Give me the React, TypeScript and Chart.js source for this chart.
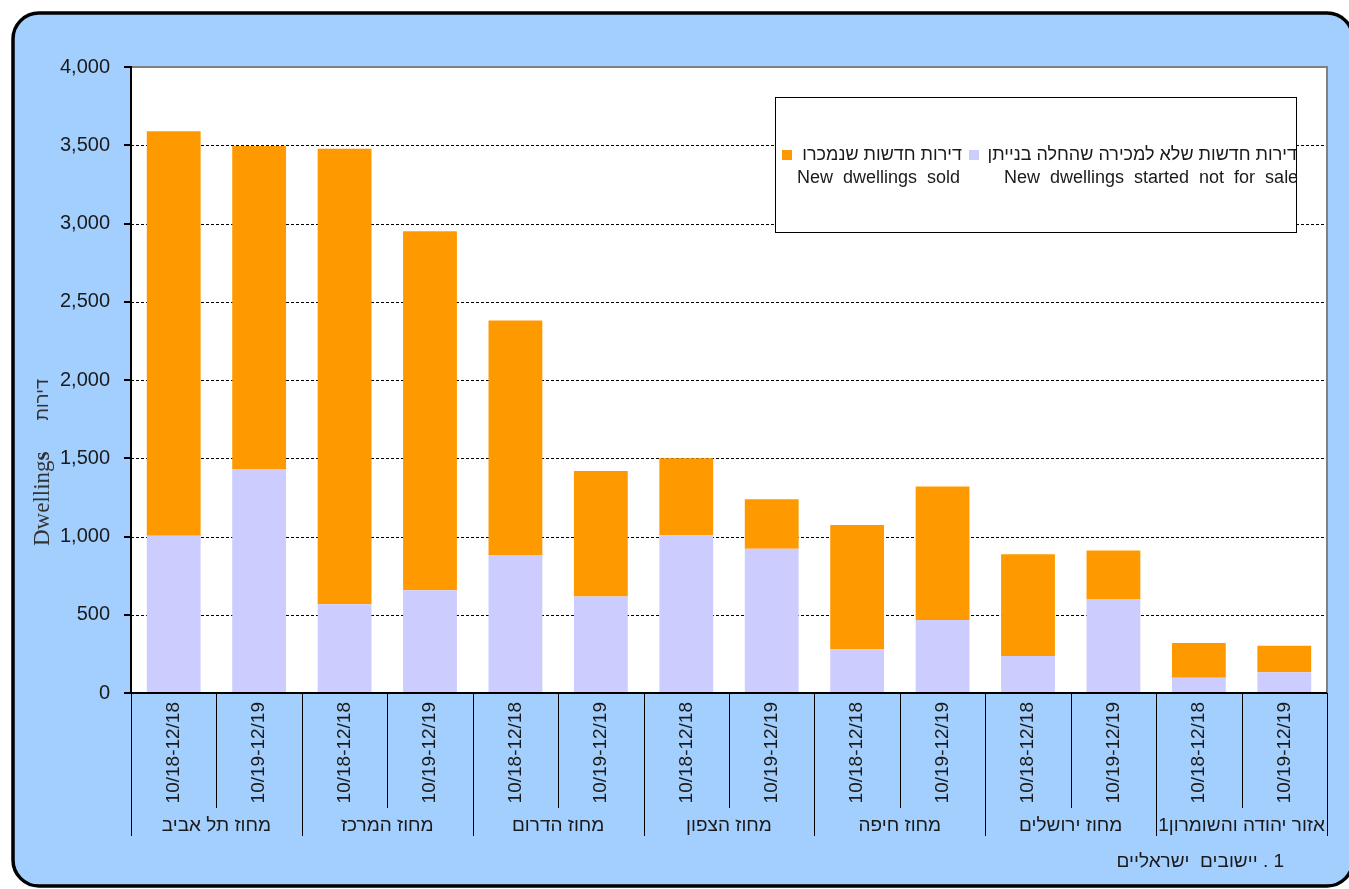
import React, { useEffect, useRef } from "react";
import { Chart, registerables } from "chart.js";

Chart.register(...registerables);

// Districts (two periods each) and the stacked dwelling counts
const districts = [
  "מחוז תל אביב",
  "מחוז המרכז",
  "מחוז הדרום",
  "מחוז הצפון",
  "מחוז חיפה",
  "מחוז ירושלים",
  "אזור יהודה והשומרון1",
];
const periods = ["10/18-12/18", "10/19-12/19"];
const notForSale = [1005, 1428, 567, 656, 878, 616, 1008, 921, 279, 467, 237, 598, 98, 132];
const sold = [2585, 2067, 2911, 2294, 1502, 803, 492, 317, 795, 852, 649, 312, 222, 170];
const yMax = 4000;
const yStep = 500;

const legendSoldHe = "דירות חדשות שנמכרו";
const legendSoldEn = "New  dwellings  sold";
const legendNfsHe = "דירות חדשות שלא למכירה שהחלה בנייתן";
const legendNfsEn = "New  dwellings  started  not  for  sale";
const axisTitleEn = "Dwelling";
const axisTitleHe = "דירות";
const footnote = "1 . יישובים  ישראליים";

const ORANGE = "#ff9900";
const LAVENDER = "#ccccff";
const PANEL = "#a3cfff";
const TEXT = "#1a1a1a";
const SANS = "'Liberation Sans', Arial, sans-serif";
const SERIF = "'Liberation Serif', 'Times New Roman', serif";

const frame = {
  id: "frame",
  beforeDraw(chart: any) {
    const { ctx, chartArea: a } = chart;
    ctx.save();
    ctx.fillStyle = "#fff";
    ctx.fillRect(0, 0, chart.width, chart.height);
    ctx.beginPath();
    ctx.roundRect(13, 13, 1340, 873, 26);
    ctx.fillStyle = PANEL;
    ctx.fill();
    ctx.lineWidth = 3.5;
    ctx.strokeStyle = "#000";
    ctx.stroke();
    ctx.fillStyle = "#fff";
    ctx.fillRect(a.left, a.top, a.right - a.left, a.bottom - a.top);
    ctx.restore();
  },
  beforeDatasetsDraw(chart: any) {
    const { ctx, chartArea: a } = chart;
    const ys = chart.scales.y;
    ctx.save();
    ctx.strokeStyle = "#000";
    ctx.lineWidth = 1;
    ctx.setLineDash([3, 2]);
    ys.ticks.forEach((t: any) => {
      if (t.value <= 0 || t.value >= yMax) return;
      const y = Math.round(ys.getPixelForValue(t.value)) + 0.5;
      ctx.beginPath();
      ctx.moveTo(a.left, y);
      ctx.lineTo(a.right, y);
      ctx.stroke();
    });
    ctx.restore();
  },
  afterDatasetsDraw(chart: any) {
    const { ctx, chartArea: a } = chart;
    const ys = chart.scales.y;
    const xs = chart.scales.x;
    ctx.save();
    // plot frame: grey top and right edges
    ctx.strokeStyle = "#808080";
    ctx.lineWidth = 2;
    ctx.beginPath();
    ctx.moveTo(a.left, a.top);
    ctx.lineTo(a.right, a.top);
    ctx.lineTo(a.right, a.bottom);
    ctx.stroke();
    // black axes
    ctx.strokeStyle = "#000";
    ctx.beginPath();
    ctx.moveTo(a.left, a.top - 1);
    ctx.lineTo(a.left, a.bottom + 1);
    ctx.moveTo(a.left, a.bottom);
    ctx.lineTo(a.right, a.bottom);
    ctx.stroke();
    // y tick marks
    ys.ticks.forEach((t: any) => {
      const y = Math.round(ys.getPixelForValue(t.value));
      ctx.beginPath();
      ctx.moveTo(a.left - 7, y);
      ctx.lineTo(a.left, y);
      ctx.stroke();
    });
    // category separators below the axis
    ctx.lineWidth = 1;
    const n = xs.ticks.length;
    for (let i = 0; i <= n; i++) {
      let x: number;
      if (i === 0) x = a.left;
      else if (i === n) x = a.right;
      else x = (xs.getPixelForTick(i - 1) + xs.getPixelForTick(i)) / 2;
      x = Math.round(x) + 0.5;
      ctx.beginPath();
      ctx.moveTo(x, a.bottom);
      ctx.lineTo(x, i % 2 === 0 ? a.bottom + 143 : a.bottom + 115);
      ctx.stroke();
    }
    // district names
    ctx.fillStyle = TEXT;
    ctx.font = `19px ${SANS}`;
    ctx.direction = "rtl";
    ctx.textAlign = "center";
    ctx.textBaseline = "middle";
    districts.forEach((d, g) => {
      const cx = (xs.getPixelForTick(2 * g) + xs.getPixelForTick(2 * g + 1)) / 2;
      ctx.fillText(d, cx, a.bottom + 133);
    });
    ctx.restore();
  },
  afterDraw(chart: any) {
    const { ctx } = chart;
    ctx.save();
    // legend box
    ctx.fillStyle = "#fff";
    ctx.fillRect(775, 97, 522, 136);
    ctx.strokeStyle = "#000";
    ctx.lineWidth = 1;
    ctx.strokeRect(775.5, 97.5, 521, 135);
    ctx.fillStyle = ORANGE;
    ctx.fillRect(782, 150, 10, 10);
    ctx.fillStyle = LAVENDER;
    ctx.fillRect(969, 150, 10, 10);
    ctx.fillStyle = TEXT;
    ctx.font = `18px ${SANS}`;
    ctx.textBaseline = "middle";
    ctx.direction = "rtl";
    ctx.textAlign = "right";
    ctx.fillText(legendSoldHe, 962, 155);
    ctx.fillText(legendNfsHe, 1297, 155);
    ctx.direction = "ltr";
    ctx.textAlign = "left";
    ctx.fillText(legendSoldEn, 797, 178);
    ctx.fillText(legendNfsEn, 1004, 178);

    // vertical axis title
    ctx.save();
    ctx.translate(43, 0);
    ctx.rotate(-Math.PI / 2);
    ctx.fillStyle = "#333";
    ctx.textBaseline = "middle";
    ctx.textAlign = "left";
    ctx.font = `23px ${SERIF}`;
    ctx.fillText(axisTitleEn, -546, 0);
    const w = ctx.measureText(axisTitleEn).width;
    ctx.font = `bold 23px ${SERIF}`;
    ctx.fillText("s", -546 + w, 0);
    ctx.font = `18px ${SANS}`;
    ctx.direction = "rtl";
    ctx.textAlign = "right";
    ctx.fillText(axisTitleHe, -379, 0);
    ctx.restore();

    // footnote
    ctx.fillStyle = TEXT;
    ctx.font = `19px ${SANS}`;
    ctx.direction = "rtl";
    ctx.textAlign = "right";
    ctx.textBaseline = "middle";
    ctx.fillText(footnote, 1284, 862);
    ctx.restore();
  },
};

export default function App() {
  const ref = useRef<HTMLCanvasElement>(null);

  useEffect(() => {
    if (!ref.current) return;
    const labels = districts.flatMap(() => periods);
    const chart = new Chart(ref.current, {
      type: "bar",
      data: {
        labels,
        datasets: [
          {
            label: legendNfsHe,
            data: notForSale,
            backgroundColor: LAVENDER,
            borderWidth: 0,
            categoryPercentage: 1,
            barPercentage: 0.63,
          },
          {
            label: legendSoldHe,
            data: sold,
            backgroundColor: ORANGE,
            borderWidth: 0,
            categoryPercentage: 1,
            barPercentage: 0.63,
          },
        ],
      },
      options: {
        responsive: false,
        animation: false,
        devicePixelRatio: 1,
        layout: { padding: { left: 0, top: 67, right: 22, bottom: 0 } },
        plugins: { legend: { display: false }, tooltip: { enabled: false } },
        scales: {
          x: {
            stacked: true,
            offset: true,
            grid: { display: false, drawTicks: false },
            border: { display: false },
            ticks: {
              autoSkip: false,
              minRotation: 90,
              maxRotation: 90,
              padding: 9,
              color: TEXT,
              font: { family: SANS, size: 19 },
            },
            afterFit(s: any) {
              s.height = 196;
            },
          },
          y: {
            stacked: true,
            min: 0,
            max: yMax,
            grid: { display: false, drawTicks: false },
            border: { display: false },
            ticks: {
              stepSize: yStep,
              padding: 21,
              color: TEXT,
              font: { family: SANS, size: 20 },
              callback: (v: any) => Number(v).toLocaleString("en-US"),
            },
            afterFit(s: any) {
              s.width = 131;
            },
          },
        },
      },
      plugins: [frame],
    });
    return () => chart.destroy();
  }, []);

  return (
    <div style={{ position: "fixed", left: 0, top: 0, width: 1349, height: 889 }}>
      <canvas ref={ref} width={1349} height={889} style={{ width: 1349, height: 889 }} />
    </div>
  );
}
